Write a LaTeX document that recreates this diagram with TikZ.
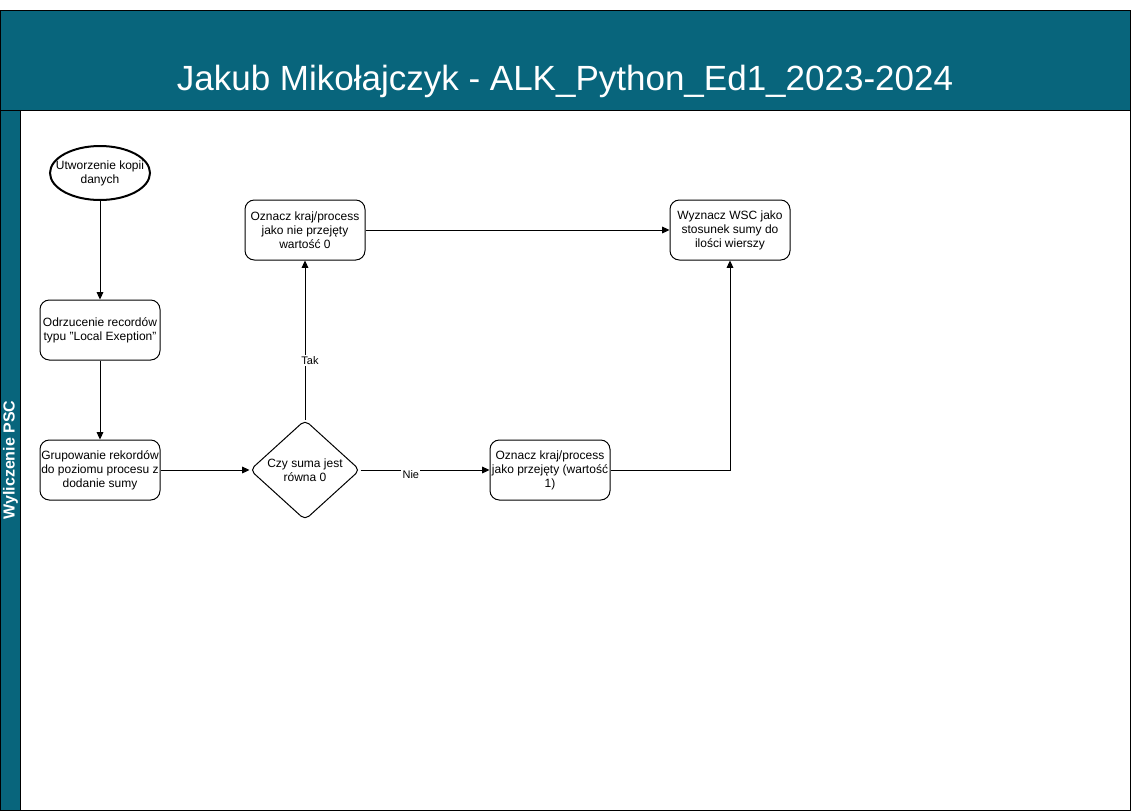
\documentclass[tikz,border=0pt]{standalone}
\usepackage{fontspec}
\setmainfont{Liberation Sans}
\usetikzlibrary{shapes.geometric,arrows.meta}
\definecolor{lane}{RGB}{8,101,124}
\begin{document}
\begin{tikzpicture}[x=0.75pt,y=-0.75pt,
  line width=0.75pt,
  txt/.style={font=\fontsize{9}{10.5}\selectfont, align=center},
  proc/.style={txt, draw, rounded corners=7pt, minimum width=90pt, minimum height=45pt, inner sep=0pt},
  startnode/.style={txt, draw, ellipse, line width=1.5pt, minimum width=75pt, minimum height=40.5pt, inner xsep=-16pt, inner ysep=-2pt},
  decision/.style={txt, draw, diamond, aspect=1.1, rounded corners=4pt, minimum width=82.5pt, minimum height=75pt, inner sep=0pt},
  arr/.style={-{Triangle[length=5.5pt,width=5pt]}},
  lbl/.style={font=\fontsize{8.25}{10}\selectfont, fill=white, inner sep=1pt}
]
\useasboundingbox (0,0) rectangle (1131,811);
% swimlane
\fill[lane] (0.5,10.5) rectangle (1130.5,110.5);
\fill[lane] (0.5,110.5) rectangle (20.5,810.5);
\draw (0.5,10.5) rectangle (1130.5,810.5);
\draw (0.5,110.5) -- (1130.5,110.5);
\draw (20.5,110.5) -- (20.5,810.5);
\node[text=white, font=\fontsize{26.25}{30}\selectfont] (title) at (565,81) {Jakub Mikołajczyk - ALK\_Python\_Ed1\_2023-2024};
\node[text=white, rotate=90, font=\bfseries\fontsize{12}{14}\selectfont] (lanelabel) at (10.5,460) {Wyliczenie PSC};
% nodes
\node[startnode] (start) at (100,173) {Utworzenie kopii\\danych};
\node[proc] (odrz) at (100,330) {Odrzucenie recordów\\typu "Local Exeption"};
\node[proc] (grup) at (100,470) {Grupowanie rekordów\\do poziomu procesu z\\dodanie sumy};
\node[decision] (dec) at (305,470) {Czy suma jest\\równa 0};
\node[proc] (nie) at (305,230) {Oznacz kraj/process\\jako nie przejęty\\wartość 0};
\node[proc] (tak) at (550,470) {Oznacz kraj/process\\jako przejęty (wartość\\1)};
\node[proc] (wsc) at (730,230) {Wyznacz WSC jako\\stosunek sumy do\\ilości wierszy};
% edges
\draw[arr] (start) -- (odrz);
\draw[arr] (odrz) -- (grup);
\draw[arr] (grup) -- (dec);
\draw[arr] (dec) -- node[lbl, pos=0.37, xshift=3.75pt] {Tak} (nie);
\draw[arr] (dec) -- node[lbl, pos=0.39, yshift=-3.75pt] {Nie} (tak);
\draw[arr] (nie) -- (wsc);
\coordinate (elbow) at (730,470);
\draw[arr] (tak.east) -- (elbow) -- (wsc.south);
\end{tikzpicture}
\end{document}
